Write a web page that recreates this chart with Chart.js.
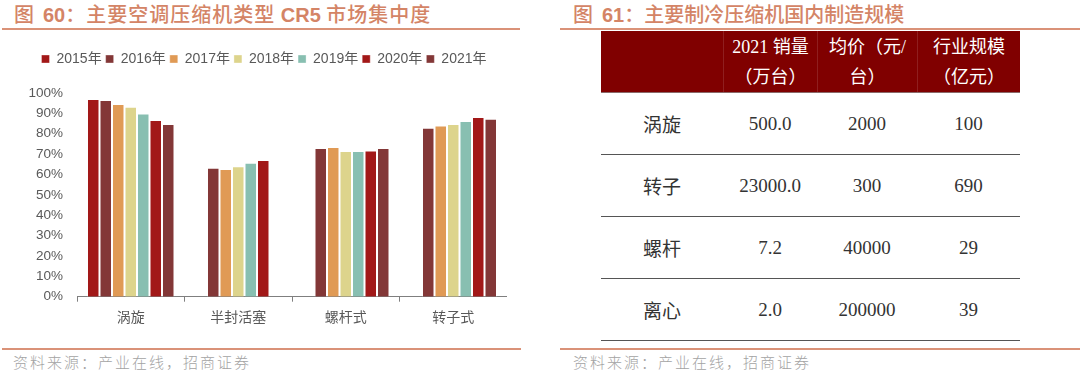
<!DOCTYPE html>
<html>
<head>
<meta charset="utf-8">
<script src="https://cdn.jsdelivr.net/npm/chart.js@4.4.1/dist/chart.umd.min.js"></script>
<style>
  html, body { margin: 0; padding: 0; background: #fff; }
  body { width: 1080px; height: 370px; position: relative; overflow: hidden; }
  .title { position: absolute; top: 3px; font-size: 20px; line-height: 22px; color: #D48466;
           font-family: "Liberation Sans", "Noto Sans CJK SC", sans-serif; white-space: nowrap; }
  .title .cjk { font-family: "Noto Sans CJK SC", sans-serif; font-weight: 500; }
  .title .lat { font-weight: bold; letter-spacing: 0; }
  .rule { position: absolute; height: 2px; background: #DA9278; }
  .src { position: absolute; top: 352px; font-size: 15px; line-height: 20px; color: #A3A3A3; letter-spacing: 2px;
         font-family: "Noto Sans CJK SC", sans-serif; font-weight: 300; white-space: nowrap; }
  #chartBox { position: absolute; left: 21px; top: 36px; width: 486px; height: 304px; }
  #tbl { position: absolute; left: 601px; top: 31px; width: 419px;
         font-family: "Liberation Serif", "Noto Sans CJK SC", serif; }
  .row { display: flex; height: 62px; box-sizing: border-box; }
  .row > div { display: flex; align-items: center; justify-content: center; text-align: center; box-sizing: border-box; }
  .head { background: #800000; color: #fff; font-size: 18px; line-height: 30px; border-bottom: 1px solid #8a6a6a; }
  .head > div { border-left: 1px solid rgba(255,255,255,0.12); }
  .head > div:first-child { border-left: none; }
  .body { color: #333; font-size: 19px; border-bottom: 1.5px solid #555; }
</style>
</head>
<body>
<div class="title" style="left:14px;"><span class="cjk">图&nbsp;&nbsp;</span><span class="lat">60</span><span class="cjk" style="letter-spacing:1px;">：主要空调压缩机类型 </span><span class="lat">CR5</span><span class="cjk" style="letter-spacing:1px;"> 市场集中度</span></div>
<div class="rule" style="left:2px; top:28px; width:518px;"></div>
<div class="title" style="left:573px;"><span class="cjk">图&nbsp;&nbsp;</span><span class="lat">61</span><span class="cjk">：主要制冷压缩机国内制造规模</span></div>
<div class="rule" style="left:560px; top:28px; width:520px;"></div>

<div id="chartBox"><canvas id="c"></canvas></div>

<div id="tbl"></div>

<div class="rule" style="left:2px; top:348px; width:519px;"></div>
<div class="rule" style="left:560px; top:348px; width:520px;"></div>
<div class="src" style="left:13px;">资料来源：产业在线，招商证券</div>
<div class="src" style="left:573px;">资料来源：产业在线，招商证券</div>

<script>
// ---- Chart data (CR5 concentration, %) ----
const categories = ['涡旋', '半封活塞', '螺杆式', '转子式'];
const years = ['2015年', '2016年', '2017年', '2018年', '2019年', '2020年', '2021年'];
const cr2015 = [97.1, null, null, null];
const cr2016 = [96.6, 63.3, 73.0, 83.0];
const cr2017 = [94.6, 62.7, 73.5, 84.1];
const cr2018 = [93.3, 64.1, 71.5, 84.8];
const cr2019 = [89.9, 65.8, 71.5, 86.3];
const cr2020 = [86.8, 67.1, 71.8, 88.2];
const cr2021 = [84.8, null, 73.0, 87.4];
const yTicks = [0, 10, 20, 30, 40, 50, 60, 70, 80, 90, 100];

// ---- Table data ----
const tableHeaders = ['', '2021 销量<br>（万台）', '均价（元/<br>台）', '行业规模<br>（亿元）'];
const compressorTypes = ['涡旋', '转子', '螺杆', '离心'];
const sales2021 = [500.0, 23000.0, 7.2, 2.0];
const avgPrice = [2000, 300, 40000, 200000];
const industryScale = [100, 690, 29, 39];

const colors = ['#A21818', '#833737', '#E09A55', '#DDD48C', '#88BFB1', '#A21818', '#833737'];
const series = [cr2015, cr2016, cr2017, cr2018, cr2019, cr2020, cr2021];

// Build table
const colW = [122, 94, 100, 103];
const tbl = document.getElementById('tbl');
function makeRow(cells, cls) {
  const r = document.createElement('div');
  r.className = 'row ' + cls;
  cells.forEach((t, i) => {
    const d = document.createElement('div');
    d.style.width = colW[i] + 'px';
    d.innerHTML = t;
    r.appendChild(d);
  });
  tbl.appendChild(r);
}
makeRow(tableHeaders, 'head');
compressorTypes.forEach((name, i) => {
  makeRow([name, sales2021[i].toFixed(1), String(avgPrice[i]), String(industryScale[i])], 'body');
});

// Chart
Chart.defaults.font.family = '"Liberation Sans", "Noto Sans CJK SC", sans-serif';
Chart.defaults.color = '#595959';

const chart = new Chart(document.getElementById('c'), {
  type: 'bar',
  data: {
    labels: categories,
    datasets: series.map((d, i) => ({
      label: years[i],
      data: d,
      backgroundColor: colors[i],
      borderColor: 'rgba(255,255,255,0.35)',
      borderWidth: 1,
      borderSkipped: 'bottom',
      categoryPercentage: 0.814,
      barPercentage: 1.0
    }))
  },
  options: {
    responsive: true,
    maintainAspectRatio: false,
    animation: false,
    layout: { padding: { top: 12, left: 0, right: 0, bottom: 0 } },
    plugins: {
      legend: {
        position: 'top',
        labels: { boxWidth: 8, boxHeight: 8, padding: 4, font: { size: 14 }, color: '#595959' }
      },
      tooltip: { enabled: false }
    },
    scales: {
      x: {
        grid: { display: true, drawOnChartArea: false, drawTicks: true, tickLength: 5, color: '#7F7F7F' },
        border: { display: true, color: '#7F7F7F', width: 1 },
        ticks: { font: { size: 14 }, color: '#595959', padding: 8 },
        afterFit: (s) => { s.height = 43.3; }
      },
      y: {
        min: 0, max: 100,
        afterBuildTicks: (s) => { s.ticks = yTicks.map(v => ({ value: v })); },
        grid: { display: false, drawTicks: false },
        border: { display: false },
        ticks: { font: { size: 13.5 }, color: '#595959', padding: 14, callback: (v) => v + '%' },
        afterFit: (s) => { s.width = 56; }
      }
    }
  }
});
const origFit = chart.legend.fit;
chart.legend.fit = function () { origFit.call(this); this.height += 17; };
chart.update();
</script>
</body>
</html>
